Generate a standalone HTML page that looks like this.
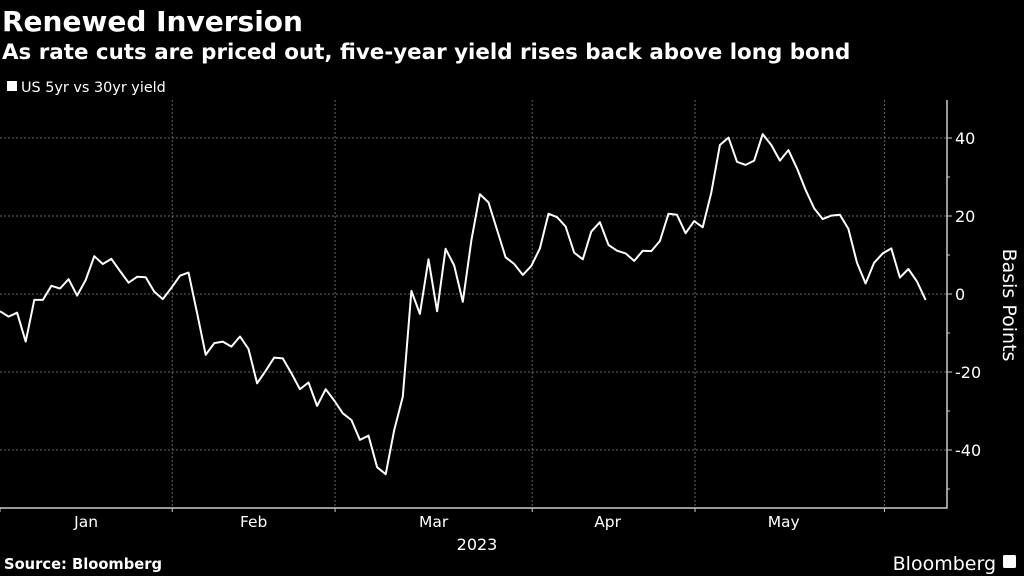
<!DOCTYPE html>
<html><head><meta charset="utf-8"><style>
html,body{margin:0;padding:0;background:#000;width:1024px;height:576px;overflow:hidden}
svg{display:block;font-family:"DejaVu Sans","Liberation Sans",sans-serif}
</style></head><body>
<svg id="chart" width="1024" height="576" viewBox="0 0 1024 576">
<text x="2" y="31" fill="#fff" font-size="28" font-weight="bold">Renewed Inversion</text>
<text x="2" y="59" fill="#fff" font-size="21.4" font-weight="bold">As rate cuts are priced out, five-year yield rises back above long bond</text>
<rect x="7" y="81" width="10" height="10" fill="#fff"/>
<text x="21" y="92" fill="#fff" font-size="14.4">US 5yr vs 30yr yield</text>
<g id="grid"></g>
<g id="axes"></g>
<path id="line" fill="none" stroke="#fff" stroke-width="2" stroke-linejoin="round"/>
<text x="0" y="0" fill="#fff" font-size="19" transform="translate(1003,305) rotate(90)" text-anchor="middle">Basis Points</text>
<text x="477" y="550" fill="#fff" font-size="16" text-anchor="middle">2023</text>
<text x="4" y="569" fill="#fff" font-size="14.7" font-weight="bold">Source: Bloomberg</text>
<text x="996" y="570" fill="#fff" font-size="19" text-anchor="end">Bloomberg</text>
<rect x="1003" y="555" width="13" height="13" rx="1.5" fill="#fff"/>
</svg>
<script>
const values = [-4.4,-5.8,-4.8,-12.2,-1.5,-1.5,2.1,1.4,3.8,-0.4,3.6,9.7,7.7,9.0,5.9,2.9,4.4,4.3,0.6,-1.3,1.6,4.7,5.5,-4.9,-15.6,-12.6,-12.2,-13.5,-10.9,-14.1,-22.9,-19.7,-16.3,-16.5,-20.3,-24.4,-22.7,-28.7,-24.4,-27.3,-30.6,-32.3,-37.4,-36.3,-44.4,-46.2,-34.9,-26.3,0.8,-5.1,8.9,-4.4,11.6,7.3,-2.0,13.8,25.6,23.5,16.4,9.4,7.7,4.9,7.2,11.7,20.6,19.7,17.3,10.6,8.9,16.0,18.4,12.6,11.1,10.4,8.5,11.1,11.0,13.6,20.6,20.3,15.6,18.7,17.1,26.0,38.2,40.1,33.9,33.1,34.2,41.0,38.2,34.2,36.9,32.2,26.7,22.0,19.2,20.1,20.3,16.7,8.0,2.7,8.0,10.4,11.7,4.2,6.4,3.2,-1.5];
const monthLabels = ["Jan","Feb","Mar","Apr","May"];
const monthStartIdx = [0,20.1,39.1,62.1,81.1,103.2];
const yTicks = [-40,-20,0,20,40];
const yMinorTicks = [-50,-30,-10,10,30];

const NS="http://www.w3.org/2000/svg";
const STEP=8.57, RIGHT=947, TOP=100, BOT=508;
const xS=i=>i*STEP;
const yS=v=>294-3.9*v;
function mk(tag,attrs,parent){const e=document.createElementNS(NS,tag);for(const k in attrs)e.setAttribute(k,attrs[k]);parent.appendChild(e);return e;}
const grid=document.getElementById('grid'), axes=document.getElementById('axes');
yTicks.forEach(t=>{
  const y=yS(t);
  const g=mk('line',{x1:0,x2:RIGHT,y1:y,y2:y,stroke:'#666','stroke-width':1,'stroke-dasharray':'2,2'},grid);
  
  
  const tk=mk('line',{x1:RIGHT,x2:RIGHT+5,y1:y,y2:y,stroke:'#ccc','stroke-width':1},axes);
  
  
  const tx=mk('text',{x:RIGHT+8,y:y+6,fill:'#fff','font-size':16},axes);
  tx.textContent=String(t);
  
  
});
yMinorTicks.forEach(t=>{
  const y=yS(t);
  const tk=mk('line',{x1:RIGHT,x2:RIGHT+3,y1:y,y2:y,stroke:'#ccc','stroke-width':1},axes);
  
  
});
monthStartIdx.forEach((idx,k)=>{
  const x=xS(idx);
  if(k>0){
    const g=mk('line',{x1:x,x2:x,y1:TOP,y2:BOT,stroke:'#666','stroke-width':1,'stroke-dasharray':'2,2'},grid);
    
    
  }
  const tk=mk('line',{x1:x,x2:x,y1:BOT,y2:BOT+4,stroke:'#ccc','stroke-width':1},axes);
  
  
  if(k<monthLabels.length){
    const cx=(x+xS(monthStartIdx[k+1]))/2-(k>=3?6:0);
    const tx=mk('text',{x:cx,y:527,fill:'#fff','font-size':15.5,'text-anchor':'middle'},axes);
    tx.textContent=monthLabels[k];
    
    
  }
});
const ax=mk('path',{d:`M0 ${BOT}H${RIGHT}V${TOP}`,fill:'none',stroke:'#ccc','stroke-width':1.5},axes);


document.getElementById('line').setAttribute('d',values.map((v,i)=>(i?'L':'M')+xS(i).toFixed(1)+' '+yS(v).toFixed(1)).join(''));
</script>
</body></html>
